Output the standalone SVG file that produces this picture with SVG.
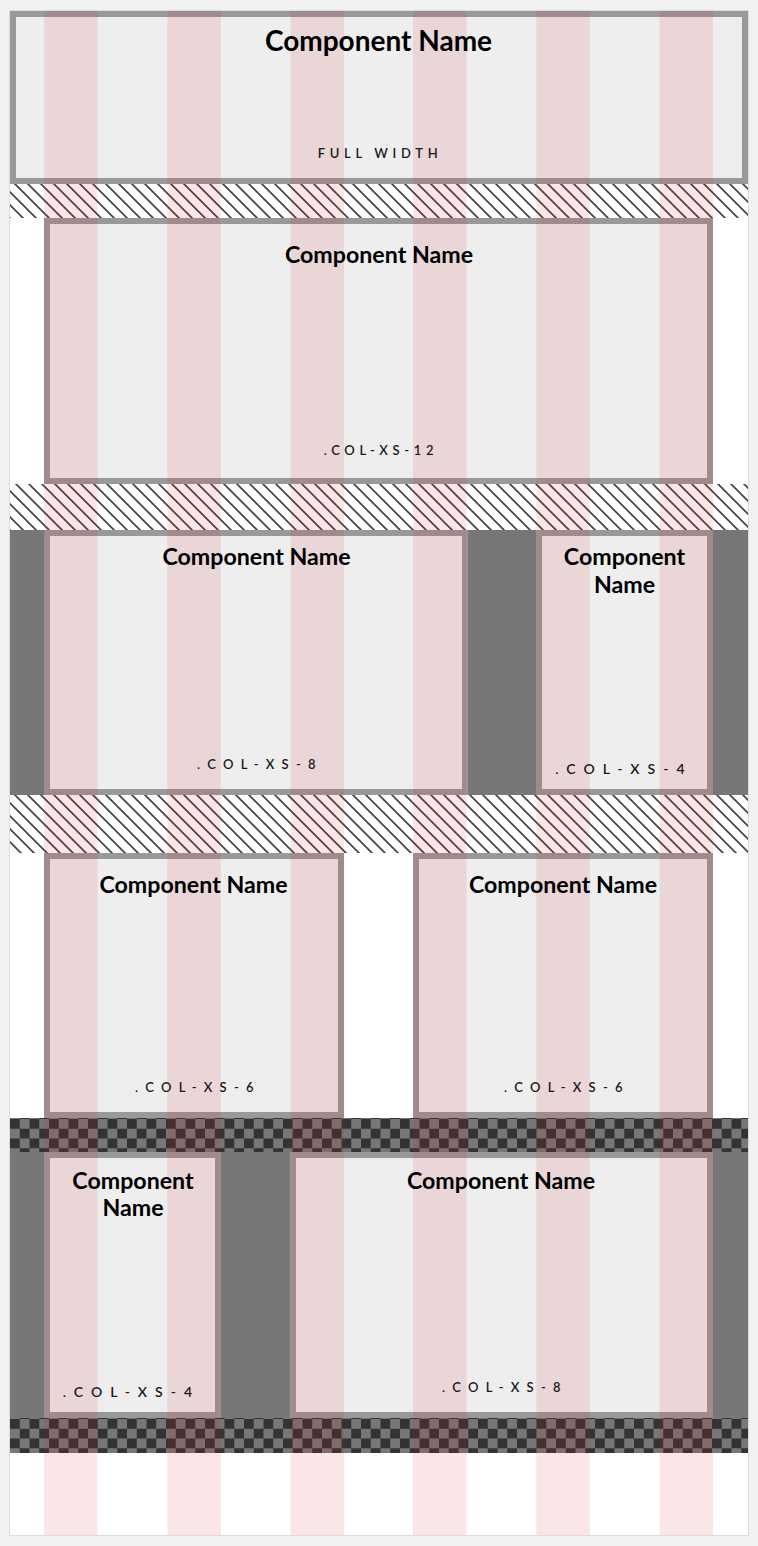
<svg xmlns="http://www.w3.org/2000/svg" width="758" height="1546" viewBox="0 0 758 1546">
<defs>
<pattern id="hatch" patternUnits="userSpaceOnUse" width="13" height="13">
<path d="M0,0 L13,13 M-3,10 L3,16 M10,-3 L16,3" stroke="#444" stroke-width="1.7" fill="none"/>
</pattern>
<pattern id="checker1" patternUnits="userSpaceOnUse" x="10" y="1119" width="19.5" height="19.5">
<rect width="19.5" height="19.5" fill="#777"/>
<rect width="9.75" height="9.75" fill="#333"/>
<rect x="9.75" y="9.75" width="9.75" height="9.75" fill="#333"/>
</pattern>
<pattern id="checker2" patternUnits="userSpaceOnUse" x="10" y="1419" width="19.5" height="19.5">
<rect width="19.5" height="19.5" fill="#777"/>
<rect width="9.75" height="9.75" fill="#333"/>
<rect x="9.75" y="9.75" width="9.75" height="9.75" fill="#333"/>
</pattern>
</defs>
<style>
.box{fill:#eeeeee;stroke:#999999;stroke-width:6}
.title{font-family:Lato,"Liberation Sans",sans-serif;font-weight:bold;fill:#000;text-anchor:middle}
.t1{font-size:28px}
.t2{font-size:23.2px}
.lbl{font-family:Lato,"Liberation Sans",sans-serif;font-size:13px;font-weight:600;fill:#1a1a1a;text-anchor:middle}
.lbl4{font-size:14px;letter-spacing:8.1px}
.lbl8{letter-spacing:7.3px}
.lbl12{letter-spacing:4.7px}
.col{fill:rgb(205,25,35);opacity:0.11}
</style>
<rect width="758" height="1546" fill="#f1f1f1"/>
<rect x="9.5" y="10.5" width="739" height="1525" fill="#ffffff" stroke="#dddddd" stroke-width="1"/>

<g id="backgrounds">
<rect x="10" y="184" width="738" height="34" fill="url(#hatch)"/>
<rect x="10" y="484" width="738" height="46" fill="url(#hatch)"/>
<rect x="10" y="530" width="738" height="265" fill="#777777"/>
<rect x="10" y="795" width="738" height="58" fill="url(#hatch)"/>
<rect x="10" y="1118" width="738" height="34" fill="url(#checker1)"/>
<rect x="10" y="1152" width="738" height="266" fill="#777777"/>
<rect x="10" y="1418" width="738" height="35" fill="url(#checker2)"/>
</g>

<g id="full-width">
<rect class="box" x="13" y="14" width="732" height="167"/>
</g>
<g id="col-xs-12">
<rect class="box" x="47" y="221" width="663" height="260"/>
</g>
<g id="row3-col-xs-8">
<rect class="box" x="47" y="533" width="418" height="259"/>
</g>
<g id="row3-col-xs-4">
<rect class="box" x="539" y="533" width="171" height="259"/>
</g>
<g id="row4-col-xs-6-left">
<rect class="box" x="47" y="856" width="294" height="259"/>
</g>
<g id="row4-col-xs-6-right">
<rect class="box" x="416" y="856" width="294" height="259"/>
</g>
<g id="row5-col-xs-4">
<rect class="box" x="47" y="1155" width="171" height="260"/>
</g>
<g id="row5-col-xs-8">
<rect class="box" x="293" y="1155" width="417" height="260"/>
</g>

<g id="grid-columns">
<rect class="col" x="44" y="11" width="53.5" height="1524"/>
<rect class="col" x="167.3" y="11" width="53.5" height="1524"/>
<rect class="col" x="290.6" y="11" width="53.5" height="1524"/>
<rect class="col" x="413" y="11" width="53.5" height="1524"/>
<rect class="col" x="536.3" y="11" width="53.5" height="1524"/>
<rect class="col" x="659.6" y="11" width="53.5" height="1524"/>
</g>

<g id="texts">
<text class="title t1" x="378.5" y="51">Component Name</text>
<text class="lbl lbl12" x="380" y="158">FULL WIDTH</text>

<text class="title t2" x="379" y="263">Component Name</text>
<text class="lbl lbl12" x="381" y="455">.COL-XS-12</text>

<text class="title t2" x="256.5" y="565">Component Name</text>
<text class="lbl lbl8" x="260" y="769">.COL-XS-8</text>

<text class="title t2" x="624.5" y="565">Component</text>
<text class="title t2" x="624.5" y="593">Name</text>
<text class="lbl lbl4" x="624" y="774">.COL-XS-4</text>

<text class="title t2" x="193.5" y="893">Component Name</text>
<text class="lbl lbl8" x="198" y="1092">.COL-XS-6</text>

<text class="title t2" x="563" y="893">Component Name</text>
<text class="lbl lbl8" x="567" y="1092">.COL-XS-6</text>

<text class="title t2" x="133" y="1189">Component</text>
<text class="title t2" x="133" y="1216">Name</text>
<text class="lbl lbl4" x="131.5" y="1397">.COL-XS-4</text>

<text class="title t2" x="501" y="1189">Component Name</text>
<text class="lbl lbl8" x="505" y="1392">.COL-XS-8</text>
</g>
</svg>
